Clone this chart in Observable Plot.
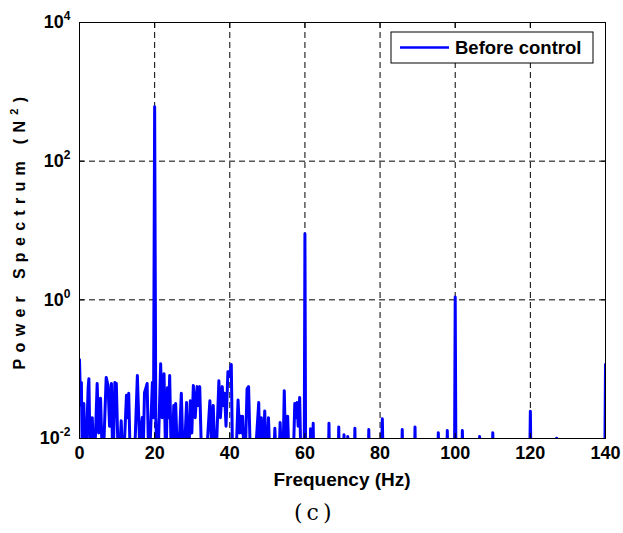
<!DOCTYPE html>
<html><head><meta charset="utf-8">
<script src="https://cdn.jsdelivr.net/npm/d3@7"></script>
<script src="https://cdn.jsdelivr.net/npm/@observablehq/plot@0.6"></script>
<style>
body{margin:0;background:#fff;}
#wrap{position:relative;width:623px;height:533px;background:#fff;}
#cap{position:absolute;left:294px;top:500px;font-family:"DejaVu Serif","Liberation Serif",serif;font-size:22px;letter-spacing:4px;color:#000;}
</style></head><body>
<div id="wrap"><div id="chart"></div><div id="cap">(c)</div></div>
<script>
// Frequency (Hz) and power spectrum (N^2); 0.003 marks points where the trace drops below the 10^-2 floor
const freq = [0,0.3,0.5,0.8,1.15,1.6,2.3,2.5,2.9,3.4,3.9,4.7,5.1,5.6,6.2,7.1,7.6,8.0,8.5,8.9,9.4,9.8,10.4,11.1,11.6,12.5,12.8,13.1,13.6,14.5,15.4,16.0,16.7,17.0,17.3,18.0,18.5,19.4,19.7,
  20.0,20.3,20.8,21.6,22.0,22.5,23.0,23.4,23.7,24.0,24.5,25.1,25.3,25.6,26.2,27.1,27.7,28.5,29.0,29.5,29.9,30.3,30.8,31.3,31.6,32.0,32.6,33.5,34.7,35.1,35.6,36.2,37.1,37.5,38.0,38.3,38.6,39.0,39.5,39.9,
  40.4,40.8,41.5,42.2,42.6,42.9,43.2,43.4,44.0,44.6,45.0,45.6,46.5,47.7,48.1,48.4,48.8,49.3,49.8,50.3,50.8,51.5,52.0,52.5,53.0,53.4,53.9,54.1,54.5,55.0,55.4,55.9,56.8,57.3,57.6,57.9,58.2,58.6,59.0,59.8,
  60.0,60.2,61.3,61.5,61.8,62.0,62.2,62.4,66.2,66.4,66.6,68.8,69.0,69.2,70.2,70.4,70.6,71.2,71.4,71.6,73.1,73.3,73.5,76.8,77.0,77.2,80.3,80.6,80.9,85.7,85.9,86.1,89.1,89.3,89.5,95.3,95.5,95.7,97.7,97.9,98.1,99.8,
  100.0,100.2,101.7,101.9,102.1,106.3,106.5,106.7,109.8,110.0,110.2,119.8,120.0,120.2,126.8,127.0,127.2,139.8,140.0];
const power = [0.137,0.03,0.064,0.003,0.032,0.003,0.054,0.073,0.003,0.02,0.003,0.062,0.012,0.038,0.003,0.076,0.058,0.015,0.062,0.003,0.064,0.062,0.003,0.018,0.003,0.042,0.02,0.045,0.003,0.003,0.081,0.008,0.02,0.008,0.046,0.062,0.003,0.064,0.02,
  608,0.02,0.003,0.12,0.02,0.086,0.003,0.054,0.02,0.081,0.003,0.03,0.01,0.032,0.003,0.045,0.003,0.033,0.003,0.035,0.012,0.058,0.02,0.056,0.03,0.056,0.003,0.003,0.035,0.01,0.03,0.003,0.068,0.02,0.056,0.03,0.045,0.015,0.092,0.08,
  0.117,0.003,0.003,0.036,0.012,0.021,0.012,0.021,0.003,0.052,0.056,0.003,0.003,0.033,0.003,0.02,0.003,0.025,0.003,0.02,0.003,0.003,0.014,0.003,0.003,0.017,0.003,0.003,0.049,0.003,0.021,0.003,0.003,0.032,0.02,0.033,0.015,0.039,0.003,0.003,
  9.0,0.003,0.003,0.0138,0.003,0.003,0.0166,0.003,0.003,0.0166,0.003,0.003,0.0146,0.003,0.003,0.0113,0.003,0.003,0.0107,0.003,0.003,0.0141,0.003,0.003,0.0135,0.003,0.003,0.0192,0.003,0.003,0.0135,0.003,0.003,0.0146,0.003,0.003,0.0121,0.003,0.003,0.013,0.003,0.003,
  1.1,0.003,0.003,0.013,0.003,0.003,0.0107,0.003,0.003,0.0121,0.003,0.003,0.0248,0.003,0.003,0.0101,0.003,0.003,0.117];
const xTicks = [0,20,40,60,80,100,120,140];
const yTicks = [0.01,1,100,10000];
const seriesName = "Before control";
const xLabel = "Frequency (Hz)";
const yLabel = "Power Spectrum (N";

const data = freq.map((f,i)=>({f, p: power[i]}));
const font = "'Liberation Sans', Arial, sans-serif";
const grid = {stroke:"#000", strokeOpacity:1, strokeWidth:1, strokeDasharray:"6,4"};

const chart = Plot.plot({
  width: 623, height: 495,
  marginTop: 22, marginBottom: 57, marginLeft: 79, marginRight: 18,
  style: {fontFamily: font, fontSize: "18px", fontWeight: "bold", color: "#000", background: "#fff", overflow: "visible"},
  x: {domain: [0,140]},
  y: {type: "log", domain: [0.01, 10000]},
  marks: [
    Plot.gridX(xTicks, grid),
    Plot.gridY([1,100], grid),
    Plot.line(data, {x: "f", y: "p", stroke: "#0000ff", strokeWidth: 3, clip: true}),
    Plot.frame({stroke: "#000", strokeWidth: 1}),
    Plot.axisX({ticks: xTicks, tickSize: 0, tickPadding: 8, tickFormat: d => String(d), label: null}),
    Plot.axisX({anchor: "bottom", ticks: xTicks, tickSize: -5, tickFormat: () => "", label: null}),
    Plot.axisX({anchor: "top", ticks: xTicks, tickSize: -5, tickFormat: () => "", label: null}),
    Plot.axisY({ticks: yTicks, tickSize: 0, tickPadding: 9, tickFormat: d => String(Math.round(Math.log10(d))), label: null}),
    Plot.axisY({anchor: "left", ticks: yTicks, tickSize: -5, tickFormat: () => "", label: null}),
    Plot.axisY({anchor: "right", ticks: yTicks, tickSize: -5, tickFormat: () => "", label: null})
  ]
});
document.getElementById("chart").appendChild(chart);

const svg = d3.select(chart);
// superscript exponents on y tick labels
svg.selectAll('g[aria-label="y-axis tick label"] text').each(function(){
  const e = this.textContent;
  if (!e) return;
  this.textContent = "";
  d3.select(this).append("tspan").text("10");
  d3.select(this).append("tspan").attr("dy", -8).attr("font-size", 12).text(e);
});

// x label
svg.append("text").attr("x", 342).attr("y", 486).attr("text-anchor", "middle")
  .attr("font-family", font).attr("font-weight", "bold").attr("font-size", 19).text(xLabel);

// y label
const yl = svg.append("text").attr("transform", "translate(25,230) rotate(-90)")
  .attr("text-anchor", "middle").attr("font-family", font).attr("font-weight", "bold")
  .attr("font-size", 16).attr("letter-spacing", "6.3px");
yl.append("tspan").text(yLabel);
yl.append("tspan").attr("dy", -7).attr("font-size", 11).text("2");
yl.append("tspan").attr("dy", 7).text(")");

// legend
const lg = svg.append("g");
lg.append("rect").attr("x", 391).attr("y", 32).attr("width", 202).attr("height", 31)
  .attr("fill", "#fff").attr("stroke", "#000").attr("stroke-width", 1);
lg.append("line").attr("x1", 400).attr("x2", 449).attr("y1", 47.5).attr("y2", 47.5)
  .attr("stroke", "#0000ff").attr("stroke-width", 2.6);
lg.append("text").attr("x", 455).attr("y", 54).attr("text-anchor", "start").attr("font-family", font).attr("font-weight", "bold")
  .attr("font-size", 18.5).text(seriesName);
</script>
</body></html>
